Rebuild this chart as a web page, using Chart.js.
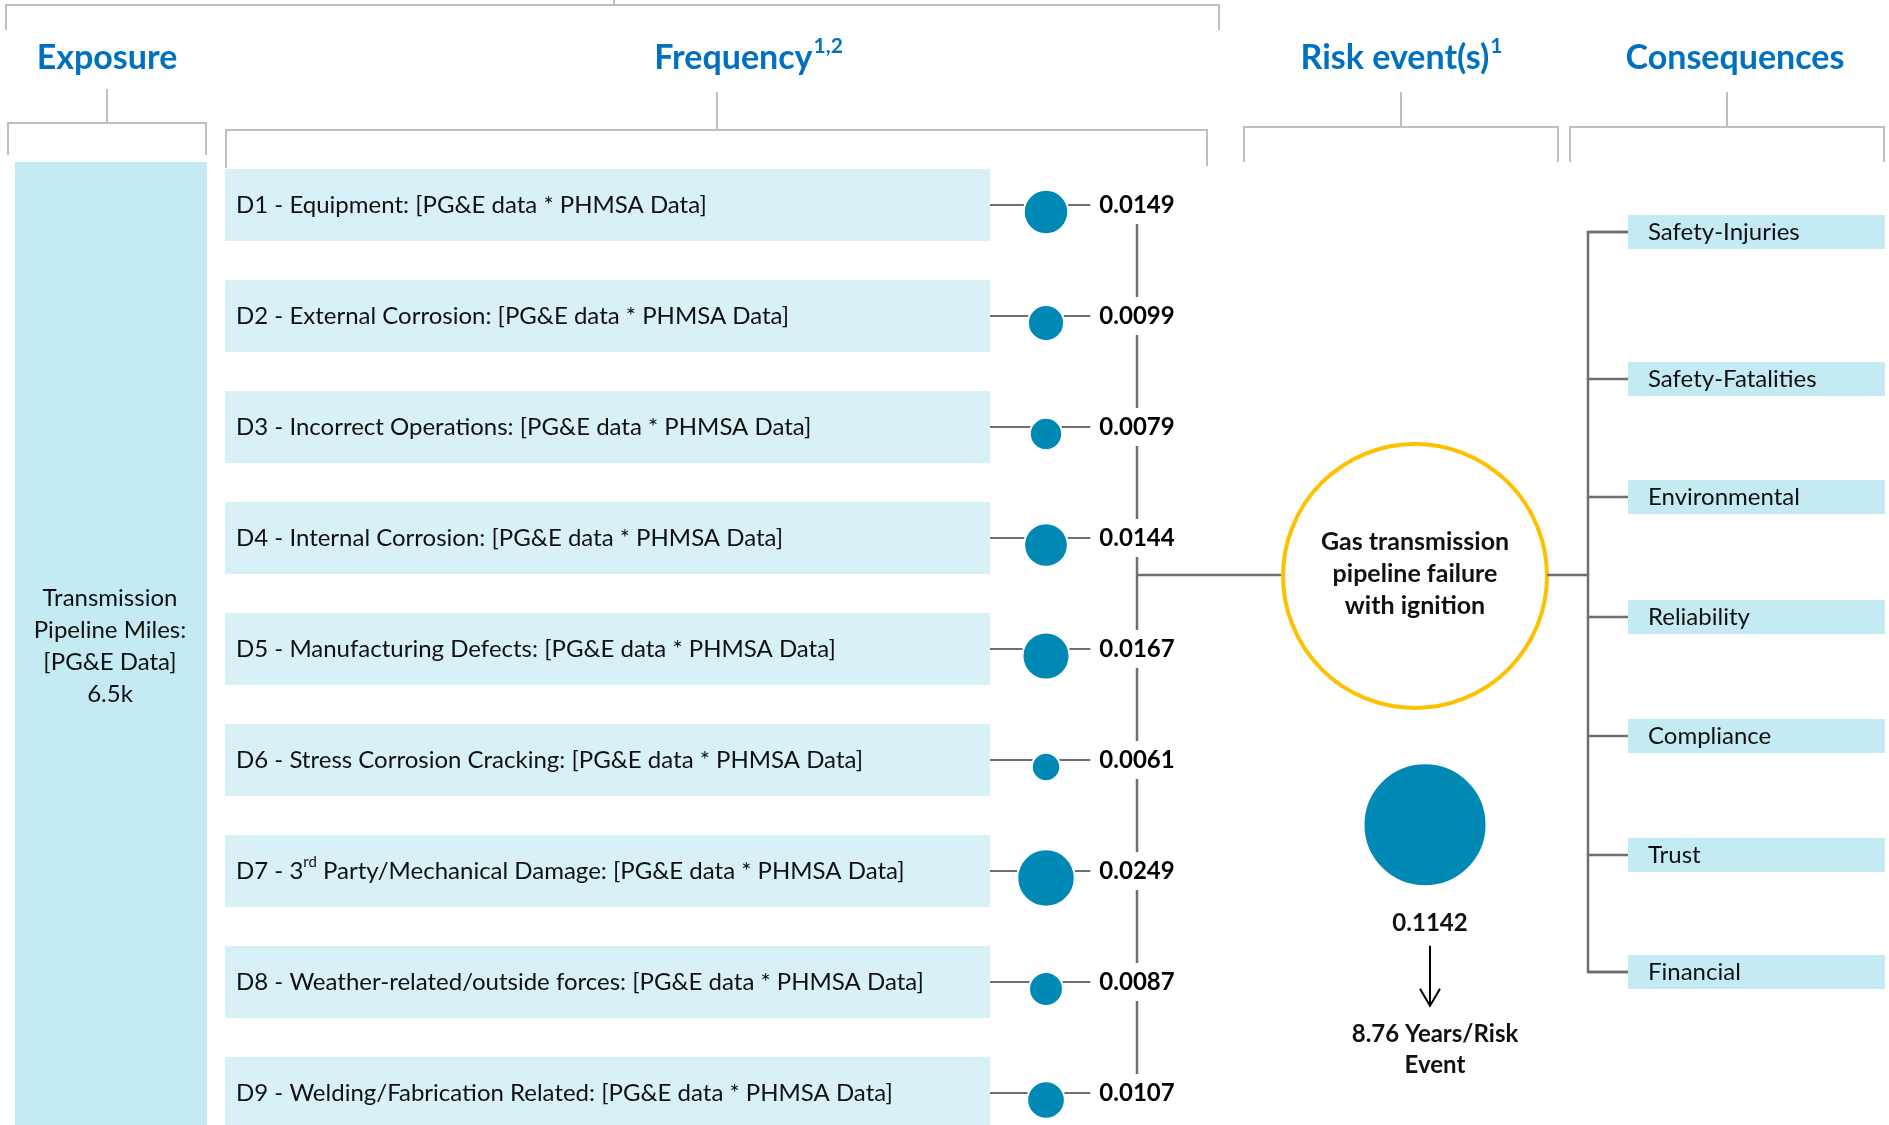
<!DOCTYPE html>
<html lang="en">
<head>
<meta charset="UTF-8">
<title>Gas transmission pipeline failure with ignition</title>
<script src="https://cdn.jsdelivr.net/npm/chart.js"></script>
<style>
  html, body { margin: 0; padding: 0; background: #fff; }
  #wrap { width: 1889px; height: 1125px; position: relative; }
</style>
</head>
<body>
<div id="wrap"><canvas id="bowtie"></canvas></div>
<script>
// ---- data ----
const drivers = [
  'D1 - Equipment: [PG&E data * PHMSA Data]',
  'D2 - External Corrosion: [PG&E data * PHMSA Data]',
  'D3 - Incorrect Operations: [PG&E data * PHMSA Data]',
  'D4 - Internal Corrosion: [PG&E data * PHMSA Data]',
  'D5 - Manufacturing Defects: [PG&E data * PHMSA Data]',
  'D6 - Stress Corrosion Cracking: [PG&E data * PHMSA Data]',
  'D7 - 3rd Party/Mechanical Damage: [PG&E data * PHMSA Data]',
  'D8 - Weather-related/outside forces: [PG&E data * PHMSA Data]',
  'D9 - Welding/Fabrication Related: [PG&E data * PHMSA Data]'
];
const driverFrequencies = [0.0149, 0.0099, 0.0079, 0.0144, 0.0167, 0.0061, 0.0249, 0.0087, 0.0107];
const totalFrequency = 0.1142;
const yearsPerEvent = 8.76;
const exposureText = ['Transmission', 'Pipeline Miles:', '[PG&E Data]', '6.5k'];
const riskEventText = ['Gas transmission', 'pipeline failure', 'with ignition'];
const consequences = ['Safety-Injuries', 'Safety-Fatalities', 'Environmental', 'Reliability', 'Compliance', 'Trust', 'Financial'];
const headers = ['Exposure', 'Frequency', 'Risk event(s)', 'Consequences'];
const headerNotes = ['', '1,2', '1', ''];

// ---- layout ----
const W = 1889, H = 1125;
const ROW0 = 212, ROWH = 111;     // first bubble row (px) and spacing
const COL0 = 1046, COLW = 379;    // driver bubble column, risk event column
const TOTAL_ROW = 5.52;           // where the total bubble sits
const SPINE_X = 1137;
const CIRCLE = { x: 1415, y: 576, r: 132 };
const CONS_SPINE_X = 1588;
const CONS_Y = [232, 379, 497, 617, 736, 855, 972];

const FONT = 'Lato, "Open Sans", sans-serif';
const BLUE = '#0070C0', TEAL = '#0089B4', DARK = '#6f6f6f', BRACKET = '#bfbfbf';
const BOX_LIGHT = '#d7f1f7', BOX = '#c4eaf3';

function bubbleR(v) { return 182 * Math.sqrt(v); }

function path(ctx, pts, color, w) {
  ctx.save();
  ctx.strokeStyle = color;
  ctx.lineWidth = w;
  ctx.beginPath();
  pts.forEach((p, i) => i ? ctx.lineTo(p[0], p[1]) : ctx.moveTo(p[0], p[1]));
  ctx.stroke();
  ctx.restore();
}

function label(ctx, str, x, y, font, color, align) {
  ctx.save();
  ctx.font = font;
  ctx.fillStyle = color;
  ctx.textAlign = align || 'center';
  ctx.textBaseline = 'middle';
  ctx.fillText(str, x, y);
  ctx.restore();
}

// text with an optional superscript tail, e.g. "Frequency" + "1,2"
function withSup(ctx, main, sup, x, y, size, weight, color, align) {
  ctx.save();
  ctx.textBaseline = 'middle';
  ctx.fillStyle = color;
  ctx.font = weight + ' ' + size + 'px ' + FONT;
  const w1 = ctx.measureText(main).width;
  ctx.font = weight + ' ' + Math.round(size * 0.62) + 'px ' + FONT;
  const w2 = sup ? ctx.measureText(sup).width : 0;
  let x0 = align === 'left' ? x : x - (w1 + w2) / 2;
  ctx.textAlign = 'left';
  ctx.font = weight + ' ' + size + 'px ' + FONT;
  ctx.fillText(main, x0, y);
  if (sup) {
    ctx.font = weight + ' ' + Math.round(size * 0.62) + 'px ' + FONT;
    ctx.fillText(sup, x0 + w1 + 1, y - size * 0.35);
  }
  ctx.restore();
}

// driver names: the ordinal "rd" in "3rd" is a superscript
function driverText(ctx, str, x, y, size) {
  const m = str.match(/^(.*?\d)(st|nd|rd|th)(\s.*)$/);
  ctx.save();
  ctx.textBaseline = 'middle';
  ctx.textAlign = 'left';
  ctx.fillStyle = '#111';
  const big = size + 'px ' + FONT, small = Math.round(size * 0.62) + 'px ' + FONT;
  if (!m) { ctx.font = big; ctx.fillText(str, x, y); ctx.restore(); return; }
  ctx.font = big; ctx.fillText(m[1], x, y);
  let cx = x + ctx.measureText(m[1]).width;
  ctx.font = small; ctx.fillText(m[2], cx, y - size * 0.35);
  cx += ctx.measureText(m[2]).width;
  ctx.font = big; ctx.fillText(m[3], cx, y);
  ctx.restore();
}

const bowtiePlugin = {
  id: 'bowtie',
  beforeDatasetsDraw(chart) {
    const ctx = chart.ctx;
    const xs = chart.scales.x, ys = chart.scales.y;

    // headers
    const hx = [107, 748, 1401, 1735];
    headers.forEach((h, i) => withSup(ctx, h, headerNotes[i], hx[i], 58, 34, 'bold', BLUE));

    // brackets
    path(ctx, [[6, 30], [6, 5], [1219, 5], [1219, 30]], BRACKET, 2);
    path(ctx, [[614, 0], [614, 5]], BRACKET, 2);
    path(ctx, [[107, 89], [107, 123]], BRACKET, 2);
    path(ctx, [[8, 155], [8, 123], [206, 123], [206, 155]], BRACKET, 2);
    path(ctx, [[717, 92], [717, 130]], BRACKET, 2);
    path(ctx, [[226, 168], [226, 130], [1207, 130], [1207, 166]], BRACKET, 2);
    path(ctx, [[1401, 92], [1401, 127]], BRACKET, 2);
    path(ctx, [[1244, 162], [1244, 127], [1558, 127], [1558, 162]], BRACKET, 2);
    path(ctx, [[1727, 92], [1727, 127]], BRACKET, 2);
    path(ctx, [[1570, 162], [1570, 127], [1884, 127], [1884, 162]], BRACKET, 2);

    // exposure box
    ctx.fillStyle = BOX;
    ctx.fillRect(15, 162, 192, H - 162);
    exposureText.forEach((t, i) => label(ctx, t, 110, 598 + i * 32, '24px ' + FONT, '#111'));

    // driver boxes, connectors and values
    const lineYs = driverFrequencies.map((v, i) => ys.getPixelForValue(i) - 7);
    drivers.forEach((d, i) => {
      const y = lineYs[i];
      ctx.fillStyle = BOX_LIGHT;
      ctx.fillRect(225, y - 36, 765, 72);
      driverText(ctx, d, 236, y, 24);
      ctx.font = 'bold 24px ' + FONT;
      const vw = ctx.measureText(driverFrequencies[i].toFixed(4)).width;
      path(ctx, [[990, y], [SPINE_X - vw / 2 - 9, y]], DARK, 2);
      label(ctx, driverFrequencies[i].toFixed(4), SPINE_X, y, 'bold 24px ' + FONT, '#000');
      if (i < drivers.length - 1) path(ctx, [[SPINE_X, y + 19], [SPINE_X, lineYs[i + 1] - 19]], DARK, 2.5);
    });

    // link to the risk event
    path(ctx, [[SPINE_X, CIRCLE.y - 1], [CIRCLE.x - CIRCLE.r, CIRCLE.y - 1]], DARK, 2.5);
    ctx.save();
    ctx.beginPath();
    ctx.arc(CIRCLE.x, CIRCLE.y, CIRCLE.r, 0, Math.PI * 2);
    ctx.fillStyle = '#fff';
    ctx.fill();
    ctx.lineWidth = 4;
    ctx.strokeStyle = '#FFC000';
    ctx.stroke();
    ctx.restore();
    riskEventText.forEach((t, i) => label(ctx, t, CIRCLE.x, 542 + i * 32, 'bold 25px ' + FONT, '#111'));

    // consequences
    path(ctx, [[CIRCLE.x + CIRCLE.r, CIRCLE.y - 1], [CONS_SPINE_X, CIRCLE.y - 1]], DARK, 2.5);
    path(ctx, [[1628, CONS_Y[0]], [CONS_SPINE_X, CONS_Y[0]], [CONS_SPINE_X, CONS_Y[CONS_Y.length - 1]], [1628, CONS_Y[CONS_Y.length - 1]]], DARK, 2.5);
    consequences.forEach((c, i) => {
      const y = CONS_Y[i];
      path(ctx, [[CONS_SPINE_X, y], [1628, y]], DARK, 2.5);
      ctx.fillStyle = BOX;
      ctx.fillRect(1628, y - 17, 257, 34);
      label(ctx, c, 1648, y, '24px ' + FONT, '#111', 'left');
    });

    // total and return period
    const tx = xs.getPixelForValue(1), ty = ys.getPixelForValue(TOTAL_ROW);
    label(ctx, totalFrequency.toFixed(4), tx + 5, ty + 99, 'bold 24px ' + FONT, '#111');
    path(ctx, [[tx + 5, ty + 121], [tx + 5, ty + 181]], '#000', 2);
    path(ctx, [[tx - 5, ty + 164], [tx + 5, ty + 181], [tx + 15, ty + 164]], '#000', 2);
    label(ctx, yearsPerEvent.toFixed(2) + ' Years/Risk', tx + 10, ty + 210, 'bold 24px ' + FONT, '#111');
    label(ctx, 'Event', tx + 10, ty + 241, 'bold 24px ' + FONT, '#111');
  }
};

new Chart(document.getElementById('bowtie'), {
  type: 'bubble',
  data: {
    datasets: [
      {
        label: 'Driver frequency',
        data: driverFrequencies.map((v, i) => ({ x: 0, y: i, r: bubbleR(v) })),
        backgroundColor: TEAL,
        borderColor: '#fff',
        borderWidth: 2
      },
      {
        label: 'Risk event frequency',
        data: [{ x: 1, y: TOTAL_ROW, r: bubbleR(totalFrequency) }],
        backgroundColor: TEAL,
        borderColor: '#fff',
        borderWidth: 2
      }
    ]
  },
  options: {
    responsive: true,
    maintainAspectRatio: false,
    animation: false,
    events: [],
    layout: { padding: 0, autoPadding: false },
    plugins: { legend: { display: false }, tooltip: { enabled: false } },
    scales: {
      x: { type: 'linear', display: false, min: -COL0 / COLW, max: (W - COL0) / COLW },
      y: { type: 'linear', display: false, reverse: true, min: -ROW0 / ROWH, max: (H - ROW0) / ROWH }
    }
  },
  plugins: [bowtiePlugin]
});
</script>
</body>
</html>
